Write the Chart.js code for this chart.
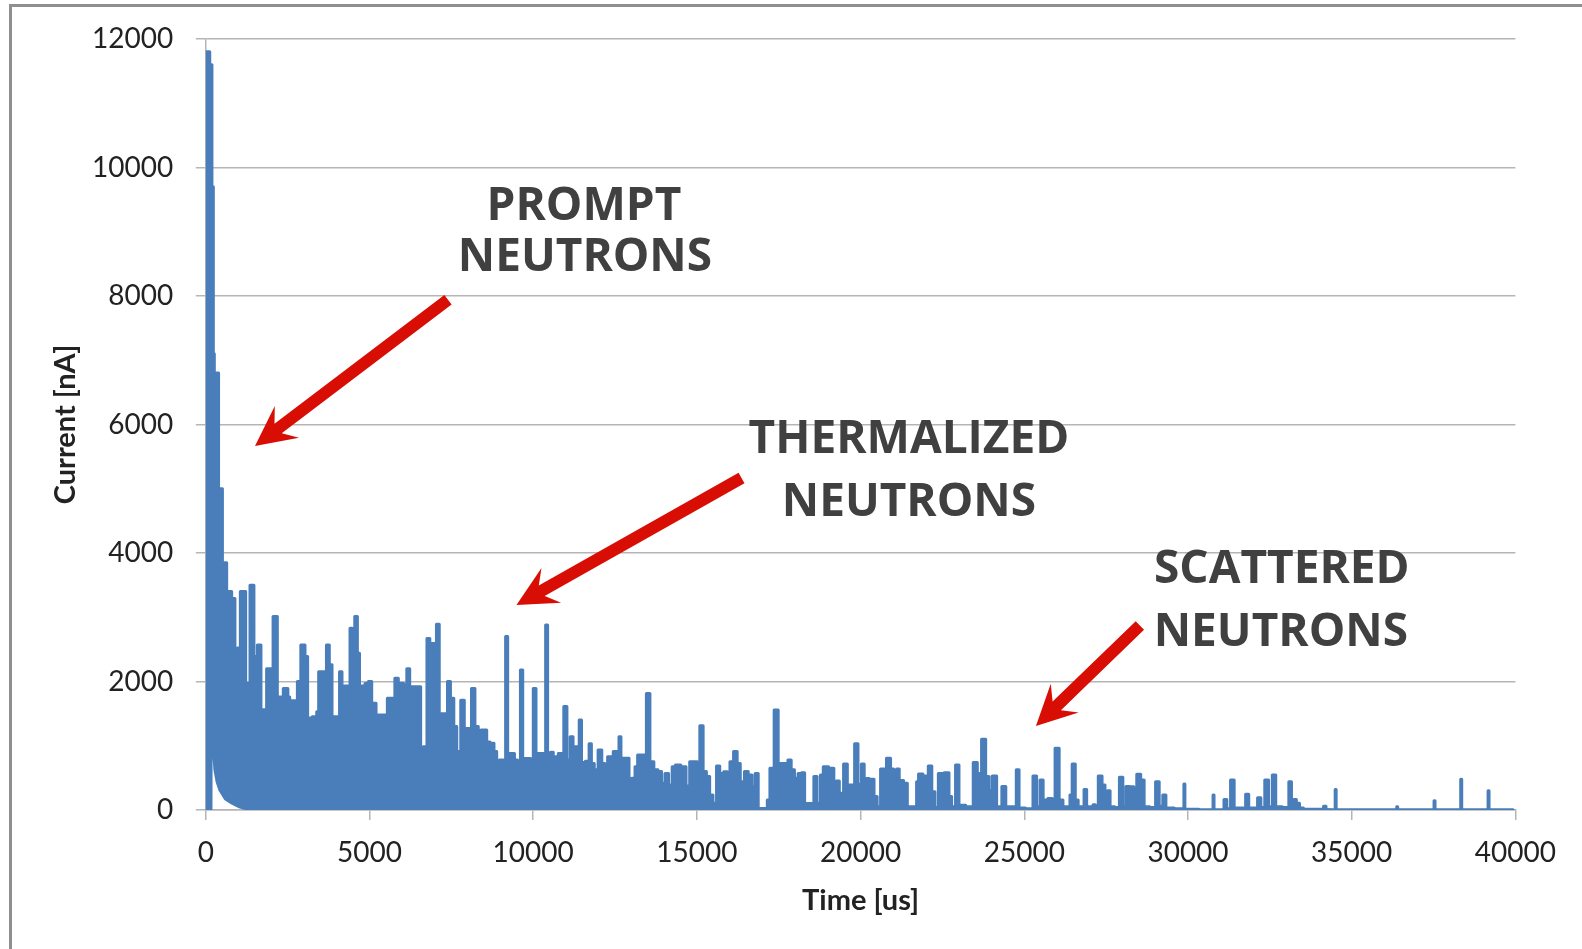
<!DOCTYPE html>
<html>
<head>
<meta charset="utf-8">
<title>Detector current vs time</title>
<script src="https://cdn.jsdelivr.net/npm/chart.js@4"></script>
<style>
  html, body { margin: 0; padding: 0; background: #fff; overflow: hidden; }
  #wrap { position: relative; width: 1582px; height: 949px; overflow: hidden; }
  #frame { position: absolute; left: 9px; top: 4px; width: 1700px; height: 1100px;
           border-left: 3px solid #8f8f8f; border-top: 3px solid #8f8f8f; pointer-events: none; }
  canvas { position: absolute; left: 0; top: 0; }
</style>
</head>
<body>
<div id="wrap">
  <canvas id="c" width="1582" height="949"></canvas>
  <div id="frame"></div>
</div>
<script>
// Measured current [nA] against time [us], as [time, current] pairs.
// Prompt burst right after the pulse.
const promptPulse = [
  [0,0],[20,11800],[110,11800],[130,11600],[180,11600],[195,9700],[225,9700],
  [235,7100],[255,7100],[265,6800],[380,6800],[400,5000],[500,5000],[515,3850],
  [625,3850],[650,3400],[780,3400],[800,3290],[880,3290],[900,2500],[1035,2520],
  [1075,3400],[1205,3400],[1230,1970],[1340,1970],[1360,3500],[1460,3500],
  [1480,2390],[1565,2390],[1585,2570],[1675,2570],[1695,1560],[1850,1560],
  [1865,2200],[2035,2200],[2075,3010],[2175,3010],[2195,1760],[2360,1760],
  [2375,1890],[2485,1890],[2530,1760],[2595,1350],[2630,1700],[2770,1700],
  [2825,2000],[2980,2570]
];

// Thermalized neutrons, roughly 3 ms to 15 ms.
const thermalTail = [
  [3080,2390],[3140,1430],[3360,1450],[3415,1530],[3480,2150],[3650,2150],
  [3720,2570],[3825,2260],[3885,1450],[4040,1450],[4130,2150],[4190,1930],
  [4375,1930],[4435,2830],[4510,2500],[4590,3010],[4670,2440],[4720,1930],
  [4855,1930],[4870,1970],[5060,2000],[5075,1660],[5190,1660],[5210,1480],
  [5535,1480],[5555,1740],[5720,1740],[5830,2050],[5930,1970],[6030,1970],
  [6060,780],[6090,1950],[6190,2200],[6265,1920],[6535,1920],[6590,930],
  [6695,985],[6815,2670],[6870,1300],[6930,2590],[6990,2590],[7100,2890],
  [7160,1500],[7350,1500],[7415,2000],[7530,1740],[7620,1300],[7710,910],
  [7865,1710],[7925,1270],[8060,1270],[8170,1890],[8270,1300],[8375,1090],
  [8435,1245],[8570,1245],[8590,1060],[8770,1040],[8835,910],[8935,620],
  [8995,780],[9125,780],[9190,2700],[9250,880],[9385,880],[9470,780],
  [9570,650],[9650,2180],[9710,800],[9890,800],[9950,675],[10055,1890],
  [10115,880],[10350,880],[10410,2880],[10470,890],[10605,900],[10620,830],
  [10760,830],[10775,880],[10890,880],[10980,1610],[11080,780],[11180,1140],
  [11255,985],[11370,985],[11440,1400],[11510,740],[11675,760],[11740,1030],
  [11815,725],[11915,625],[12050,935],[12140,725],[12240,390],[12305,830],
  [12435,830],[12455,910],[12590,910],[12650,1140],[12710,805],[12895,805],
  [12960,340],[13060,495],[13160,675],[13220,855],[13405,855],[13510,1815],
  [13620,750],[13750,625],[13870,600],[13970,415],[14080,570],[14190,390],
  [14300,675],[14390,700],[14625,675],[14710,375],[14850,750],[14980,750],
  [15040,500],[15140,1310]
];

// Scattered neutrons, sparse events out to 40 ms.
const scatterTail = [
  [15240,600],[15340,520],[15440,235],[15540,105],[15660,685],[15735,570],
  [15900,595],[15960,310],[16060,750],[16180,910],[16280,725],[16370,440],
  [16430,340],[16475,600],[16660,545],[16705,365],[16750,200],[16810,570],
  [16935,25],[17120,25],[17180,155],[17280,650],[17440,1555],[17525,725],
  [17730,725],[17830,780],[17930,625],[18030,495],[18150,570],[18240,580],
  [18340,100],[18525,100],[18620,520],[18720,105],[18830,545],[18890,675],
  [19155,650],[19210,80],[19300,450],[19400,260],[19560,715],[19630,390],
  [19765,390],[19870,1030],[19970,400],[20080,715],[20140,490],[20380,480],
  [20440,210],[20570,50],[20650,640],[20720,640],[20860,805],[20970,640],
  [21050,105],[21150,640],[21210,460],[21415,415],[21440,50],[21680,50],
  [21740,440],[21800,560],[22005,530],[22130,685],[22220,285],[22320,40],
  [22430,570],[22670,580],[22730,210],[22830,50],[22970,700],[23040,75],
  [23380,50],[23500,740],[23630,570],[23760,1100],[23880,520],[23960,300],
  [24080,530],[24230,50],[24400,365],[24470,50],[24700,50],[24810,625],
  [24870,30],[25200,20],[25330,530],[25420,50],[25540,465],[25610,155],
  [25825,180],[25880,60],[26000,960],[26130,155],[26230,50],[26370,50],
  [26420,235],[26505,715],[26610,155],[26680,50],[26780,50],[26870,320],
  [26940,50],[27060,50],[27140,80],[27200,30],[27320,530],[27430,390],
  [27500,100],[27580,300],[27660,50],[27860,40],[27950,510],[28070,50],
  [28140,365],[28310,360],[28380,50],[28490,555],[28620,465],[28700,50],
  [28960,40],[29060,440],[29180,60],[29280,235],[29370,30],[29790,20],
  [29860,20],[29890,405],[29920,10],[30750,0],[30780,235],[30810,0],
  [31060,0],[31140,165],[31230,20],[31370,465],[31450,30],[31710,30],
  [31810,245],[31900,30],[32080,30],[32170,190],[32280,40],[32410,465],
  [32510,50],[32640,545],[32720,50],[33040,40],[33120,440],[33200,50],
  [33260,165],[33360,105],[33450,30],[33600,10],[34100,10],[34180,60],
  [34250,5],[34480,0],[34510,320],[34540,0],[36360,0],[36390,50],[36420,0],
  [37500,0],[37530,145],[37560,0],[38315,0],[38345,480],[38375,0],
  [39150,0],[39180,300],[39210,0],[39930,0]
];

// Lowest excursion of the signal: it only settles to zero after the first ~1.5 ms.
const signalFloor = [
  [0,0],[70,0],[80,1870],[150,1800],[158,0],[166,1700],[200,1300],[240,900],
  [280,620],[350,430],[430,310],[600,170],[790,110],[1000,55],[1250,15],
  [1600,0],[39930,0]
];

// Axis ranges and tick steps.
const timeRange = [0, 40000];
const timeStep = 5000;
const currentRange = [0, 12000];
const currentStep = 2000;

// Callouts: text lines (centre, in data units) and arrows (tip -> tail, in data units).
const calloutText = [
  ['PROMPT', 11550, 9445], ['NEUTRONS', 11581, 8651],
  ['THERMALIZED', 21476, 5819], ['NEUTRONS', 21476, 4824],
  ['SCATTERED', 32866, 3789], ['NEUTRONS', 32836, 2801]
];
const calloutArrows = [
  [[1503, 5664], [7397, 7942]],
  [[9489, 3190], [16363, 5166]],
  [[25355, 1307], [28530, 2871]]
];

const BLUE = '#4a7ebb';
const GRID = '#b5b5b5';
const RED = 'rgb(216, 14, 4)';
const TICK_FONT = { family: 'Lato', size: 28 };
const TITLE_FONT = { family: 'Lato', size: 29, weight: 'bold' };

const toXY = pairs => pairs.map(([t, v]) => ({ x: t, y: v }));
const tracePoints = toXY([...promptPulse, ...thermalTail, ...scatterTail]);
const floorPoints = toXY(signalFloor);

function drawArrow(ctx, tip, tail) {
  const dx = tail[0] - tip[0], dy = tail[1] - tip[1];
  const len = Math.hypot(dx, dy);
  const ux = dx / len, uy = dy / len;       // along the arrow, tip -> tail
  const nx = -uy, ny = ux;                  // perpendicular
  const shaft = 6, headLen = 40, headHalf = 20, notch = 29;
  const p = (a, b) => [tip[0] + ux * a + nx * b, tip[1] + uy * a + ny * b];
  const pts = [p(0, 0), p(headLen, headHalf), p(notch, shaft), p(len, shaft),
               p(len, -shaft), p(notch, -shaft), p(headLen, -headHalf)];
  ctx.beginPath();
  ctx.moveTo(pts[0][0], pts[0][1]);
  for (let i = 1; i < pts.length; i++) ctx.lineTo(pts[i][0], pts[i][1]);
  ctx.closePath();
  ctx.fillStyle = RED;
  ctx.fill();
}

const callouts = {
  id: 'callouts',
  afterDatasetsDraw(chart) {
    const { ctx, scales: { x, y } } = chart;
    ctx.save();
    for (const [tip, tail] of calloutArrows) {
      drawArrow(ctx, [x.getPixelForValue(tip[0]), y.getPixelForValue(tip[1])],
                     [x.getPixelForValue(tail[0]), y.getPixelForValue(tail[1])]);
    }
    const size = 46;
    ctx.font = `bold ${size}px "Open Sans"`;
    ctx.fillStyle = '#404040';
    ctx.textAlign = 'center';
    ctx.textBaseline = 'alphabetic';
    for (const [text, t, v] of calloutText) {
      ctx.fillText(text, x.getPixelForValue(t), y.getPixelForValue(v) + size * 0.357);
    }
    ctx.restore();
  }
};

new Chart(document.getElementById('c'), {
  type: 'line',
  data: {
    datasets: [
      {
        label: 'Current',
        data: tracePoints,
        borderColor: BLUE,
        backgroundColor: BLUE,
        borderWidth: 3,
        borderJoinStyle: 'round',
        borderCapStyle: 'round',
        pointRadius: 0,
        stepped: 'middle',
        fill: '+1'
      },
      {
        label: 'Floor',
        data: floorPoints,
        borderColor: BLUE,
        borderWidth: 3,
        borderJoinStyle: 'round',
        borderCapStyle: 'round',
        pointRadius: 0,
        tension: 0,
        fill: false
      }
    ]
  },
  options: {
    responsive: false,
    animation: false,
    events: [],
    layout: { padding: { top: 39, right: 66.6, bottom: 0, left: 0 } },
    plugins: { legend: { display: false }, tooltip: { enabled: false } },
    scales: {
      x: {
        type: 'linear',
        min: timeRange[0],
        max: timeRange[1],
        ticks: {
          stepSize: timeStep, autoSkip: false, maxRotation: 0,
          callback: v => String(v), font: TICK_FONT, color: '#222', padding: 16
        },
        grid: { drawOnChartArea: false, drawTicks: true, tickLength: 10, color: GRID, lineWidth: 1.5 },
        border: { display: true, color: GRID, width: 1.5 },
        title: { display: true, text: 'Time [us]', font: TITLE_FONT, color: '#222', padding: { top: 0, bottom: 30.6 } },
        afterFit(scale) { scale.height = 139; scale.paddingLeft = 0; scale.paddingRight = 0; }
      },
      y: {
        min: currentRange[0],
        max: currentRange[1],
        ticks: {
          stepSize: currentStep, callback: v => String(v), font: TICK_FONT, color: '#222', padding: 22.5
        },
        grid: { color: GRID, lineWidth: 1.5, drawTicks: true, tickLength: 10 },
        border: { display: true, color: GRID, width: 1.5 },
        title: { display: true, text: 'Current [nA]', font: TITLE_FONT, color: '#222', padding: { top: 48.2, bottom: 0 } },
        afterFit(scale) { scale.width = 205.8; scale.paddingTop = 0; scale.paddingBottom = 0; }
      }
    }
  },
  plugins: [callouts]
});
</script>
</body>
</html>
